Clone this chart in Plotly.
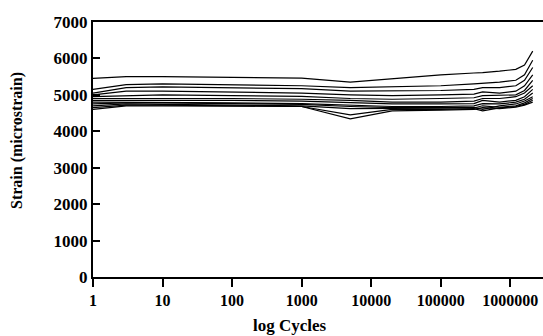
import plotly.graph_objects as go

cycles = [1, 3, 10, 100, 1000, 5000, 20000, 100000, 300000, 400000, 700000, 1200000, 1600000, 2100000]

strain_series = [
    [5450, 5500, 5500, 5480, 5460, 5350, 5450, 5550, 5600, 5610, 5650, 5700, 5820, 6200],
    [5150, 5280, 5300, 5280, 5250, 5200, 5220, 5250, 5300, 5310, 5350, 5400, 5550, 5950],
    [5050, 5200, 5220, 5200, 5170, 5100, 5100, 5120, 5150, 5200, 5200, 5250, 5400, 5750],
    [5000, 5100, 5100, 5080, 5050, 5000, 4980, 5000, 5020, 5080, 5050, 5100, 5250, 5550],
    [4950, 4980, 5000, 4980, 4960, 4900, 4880, 4900, 4920, 4980, 4980, 5000, 5120, 5400],
    [4900, 4900, 4920, 4900, 4880, 4850, 4800, 4800, 4830, 4900, 4900, 4950, 5050, 5250],
    [4850, 4850, 4860, 4850, 4830, 4780, 4750, 4750, 4760, 4850, 4800, 4850, 4950, 5150],
    [4800, 4800, 4800, 4780, 4760, 4720, 4680, 4680, 4700, 4760, 4750, 4800, 4880, 5050],
    [4750, 4780, 4780, 4760, 4740, 4680, 4650, 4650, 4660, 4600, 4700, 4750, 4830, 4950],
    [4700, 4750, 4740, 4730, 4700, 4620, 4620, 4620, 4640, 4700, 4660, 4700, 4780, 4900],
    [4650, 4720, 4720, 4700, 4680, 4450, 4600, 4600, 4620, 4560, 4640, 4680, 4740, 4850],
    [4600, 4700, 4700, 4690, 4680, 4340, 4560, 4580, 4600, 4650, 4620, 4660, 4720, 4800],
]

x_ticks = [1, 10, 100, 1000, 10000, 100000, 1000000]
x_tick_labels = ["1", "10", "100", "1000", "10000", "100000", "1000000"]
y_ticks = [0, 1000, 2000, 3000, 4000, 5000, 6000, 7000]
y_tick_labels = ["0", "1000", "2000", "3000", "4000", "5000", "6000", "7000"]

fig = go.Figure()
for s in strain_series:
    fig.add_trace(go.Scatter(x=cycles, y=s, mode="lines",
                             line=dict(color="black", width=1.2),
                             showlegend=False, hoverinfo="skip"))

font_family = "Liberation Serif"
W, H = 543, 336
ml, mr, mt, mb = 93, 0, 22, 59
pw, ph = W - ml - mr, H - mt - mb

fig.update_layout(
    width=W, height=H,
    margin=dict(l=ml, r=mr, t=mt, b=mb, pad=0),
    paper_bgcolor="white", plot_bgcolor="white",
    font=dict(family=font_family, color="black"),
    xaxis=dict(
        type="log", range=[0, 6.47],
        tickvals=x_ticks, ticktext=x_tick_labels,
        ticks="outside", ticklen=8, tickwidth=1.5, tickcolor="black",
        showline=True, linecolor="black", linewidth=2, mirror=True,
        showgrid=False, zeroline=False,
        tickfont=dict(family=font_family, size=16, weight="bold"),
        automargin=False,
    ),
    yaxis=dict(
        range=[0, 7000],
        tickvals=y_ticks, ticktext=y_tick_labels,
        ticks="inside", ticklen=7, tickwidth=1.5, tickcolor="black",
        showline=True, linecolor="black", linewidth=2,
        showgrid=False, zeroline=False,
        tickfont=dict(family=font_family, size=17, weight="bold"),
        automargin=False,
    ),
    annotations=[
        dict(text="log Cycles", xref="paper", yref="paper",
             x=(290 - ml) / pw, y=-(325 - (mt + ph)) / ph,
             showarrow=False, xanchor="center", yanchor="middle",
             font=dict(family=font_family, size=17, weight="bold")),
        dict(text="Strain (microstrain)", xref="paper", yref="paper",
             x=(17 - ml) / pw, y=(mt + ph - 141) / ph,
             showarrow=False, xanchor="center", yanchor="middle", textangle=-90,
             font=dict(family=font_family, size=16, weight="bold")),
    ],
)

fig.write_html("out.html")
